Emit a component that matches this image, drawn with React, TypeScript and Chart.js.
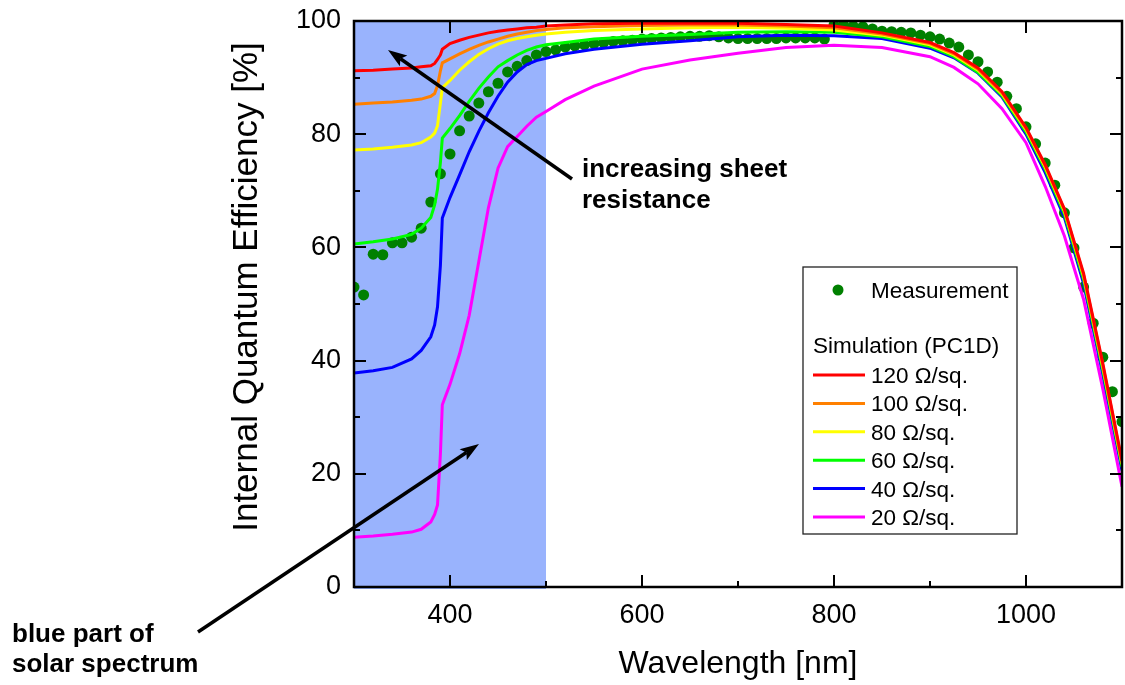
import { useEffect, useRef } from "react";
import { Chart, registerables } from "chart.js";
Chart.register(...registerables);

const FONT = '"Liberation Sans", Arial, Helvetica, sans-serif';

// Simulation (PC1D) wavelength grid [nm]
const SIM_WL = [300, 320, 340, 360, 370, 380, 384, 387, 390, 392, 400, 410, 420, 430, 440, 450, 460, 470, 480, 490, 500, 520, 550, 600, 650, 700, 750, 800, 850, 900, 925, 950, 975, 1000, 1020, 1040, 1060, 1080, 1100];

const SIM_120 = [91.2, 91.3, 91.5, 91.7, 91.9, 92.1, 92.5, 93.2, 94.0, 95.0, 96.0, 96.6, 97.1, 97.5, 97.9, 98.2, 98.4, 98.6, 98.8, 98.9, 99.1, 99.3, 99.5, 99.6, 99.6, 99.6, 99.4, 99.1, 97.9, 96.2, 94.4, 91.7, 87.5, 81.2, 74.6, 66.8, 55.4, 39.5, 22.3];
const SIM_100 = [85.3, 85.5, 85.7, 86.0, 86.2, 86.7, 87.2, 88.6, 91.2, 92.6, 93.3, 94.2, 95.0, 95.7, 96.3, 96.8, 97.3, 97.7, 98.0, 98.3, 98.5, 98.8, 99.0, 99.2, 99.3, 99.3, 99.1, 98.8, 97.7, 96.0, 94.2, 91.5, 87.3, 81.0, 74.4, 66.6, 55.1, 39.2, 22.0];
const SIM_80 = [77.2, 77.4, 77.7, 78.1, 78.5, 79.5, 80.2, 81.5, 85.5, 88.2, 89.5, 91.3, 92.8, 94.1, 95.1, 95.9, 96.5, 96.9, 97.2, 97.5, 97.7, 98.0, 98.3, 98.6, 98.8, 98.9, 98.7, 98.4, 97.5, 95.8, 94.0, 91.3, 87.1, 80.8, 74.2, 66.4, 54.9, 38.9, 21.7];
const SIM_60 = [60.6, 61.0, 61.5, 62.3, 63.4, 65.3, 67.5, 70.3, 75.0, 79.3, 81.0, 83.3, 85.8, 88.1, 90.1, 91.9, 93.0, 94.0, 94.8, 95.4, 95.8, 96.2, 96.8, 97.3, 97.6, 98.0, 98.1, 98.0, 97.2, 95.5, 93.7, 90.9, 86.8, 80.4, 73.8, 65.9, 54.3, 38.3, 21.2];
const SIM_40 = [37.8, 38.2, 38.8, 40.3, 41.8, 44.2, 46.3, 49.5, 56.8, 65.2, 68.8, 72.8, 76.9, 80.5, 83.8, 86.7, 89.2, 91.0, 92.3, 93.0, 93.4, 94.2, 95.0, 95.9, 96.5, 97.2, 97.5, 97.4, 96.9, 95.2, 93.5, 90.8, 86.6, 80.0, 73.2, 65.3, 53.6, 37.6, 20.6];
const SIM_20 = [8.8, 9.0, 9.3, 9.7, 10.2, 11.5, 12.8, 14.5, 23.5, 32.2, 35.8, 41.2, 48.0, 57.5, 67.0, 74.0, 77.8, 79.6, 81.4, 83.0, 84.0, 86.1, 88.5, 91.5, 93.1, 94.3, 95.3, 95.7, 95.3, 93.7, 91.8, 88.9, 84.5, 78.5, 70.8, 62.0, 50.8, 35.0, 17.7];

const SIM_SERIES = [SIM_120, SIM_100, SIM_80, SIM_60, SIM_40, SIM_20];
const SIM_LABELS = ["120 Ω/sq.", "100 Ω/sq.", "80 Ω/sq.", "60 Ω/sq.", "40 Ω/sq.", "20 Ω/sq."];
const SIM_COLORS = ["#ff0000", "#ff8000", "#ffff00", "#00ff00", "#0000ff", "#ff00ff"];

// Measurement
const MEAS_WL = [300, 310, 320, 330, 340, 350, 360, 370, 380, 390, 400, 410, 420, 430, 440, 450, 460, 470, 480, 490, 500, 510, 520, 530, 540, 550, 560, 570, 580, 590, 600, 610, 620, 630, 640, 650, 660, 670, 680, 690, 700, 710, 720, 730, 740, 750, 760, 770, 780, 790, 800, 810, 820, 830, 840, 850, 860, 870, 880, 890, 900, 910, 920, 930, 940, 950, 960, 970, 980, 990, 1000, 1010, 1020, 1030, 1040, 1050, 1060, 1070, 1080, 1090, 1100];
const MEAS_IQE = [53.0, 51.6, 58.8, 58.7, 60.8, 60.8, 61.8, 63.4, 68.0, 73.0, 76.5, 80.6, 83.2, 85.5, 87.5, 89.0, 91.0, 92.0, 93.0, 94.0, 94.6, 94.9, 95.4, 95.6, 95.8, 96.0, 96.2, 96.4, 96.5, 96.6, 96.8, 96.9, 97.0, 97.1, 97.2, 97.3, 97.3, 97.4, 97.2, 97.0, 96.9, 96.9, 96.9, 96.9, 96.9, 97.0, 97.0, 97.0, 97.0, 96.8, 99.3, 99.3, 99.1, 99.0, 98.6, 98.2, 98.1, 98.0, 97.9, 97.5, 97.2, 96.8, 96.1, 95.4, 94.0, 92.8, 91.0, 89.2, 86.7, 84.5, 81.3, 78.3, 74.9, 71.0, 66.1, 59.9, 53.0, 46.6, 40.6, 34.5, 29.2];
const MEAS_LABEL = "Measurement";
const MEAS_COLOR = "#008000";
const SIM_HEADER = "Simulation (PC1D)";

const X_MIN = 300, X_MAX = 1100;
const Y_MIN = 0, Y_MAX = 100;
const X_MAJOR = [400, 600, 800, 1000];
const X_MINOR = [500, 700, 900];
const Y_MAJOR = [0, 20, 40, 60, 80, 100];
const Y_MINOR = [10, 30, 50, 70, 90];
const SHADE_RANGE = [300, 500];
const SHADE_COLOR = "#99b3fd";

const X_TITLE = "Wavelength [nm]";
const Y_TITLE = "Internal Quantum Efficiency [%]";
const NOTE_1 = ["increasing sheet", "resistance"];
const NOTE_2 = ["blue part of", "solar spectrum"];

function arrow(ctx: CanvasRenderingContext2D, x0: number, y0: number, x1: number, y1: number) {
  const ang = Math.atan2(y1 - y0, x1 - x0);
  const L = 19, W = 6.5;
  const bx = x1 - Math.cos(ang) * L * 0.8, by = y1 - Math.sin(ang) * L * 0.8;
  ctx.save();
  ctx.strokeStyle = "#000";
  ctx.fillStyle = "#000";
  ctx.lineWidth = 3.5;
  ctx.beginPath();
  ctx.moveTo(x0, y0);
  ctx.lineTo(bx, by);
  ctx.stroke();
  const px = -Math.sin(ang), py = Math.cos(ang);
  const hx = x1 - Math.cos(ang) * L, hy = y1 - Math.sin(ang) * L;
  ctx.beginPath();
  ctx.moveTo(x1, y1);
  ctx.lineTo(hx + px * W, hy + py * W);
  ctx.lineTo(bx, by);
  ctx.lineTo(hx - px * W, hy - py * W);
  ctx.closePath();
  ctx.fill();
  ctx.restore();
}

const decor = {
  id: "decor",
  beforeDatasetsDraw(chart: any) {
    const { ctx, chartArea: a, scales } = chart;
    const x = scales.x;
    const x0 = x.getPixelForValue(SHADE_RANGE[0]);
    const x1 = x.getPixelForValue(SHADE_RANGE[1]);
    ctx.save();
    ctx.fillStyle = SHADE_COLOR;
    ctx.fillRect(x0, a.top, x1 - x0, a.bottom - a.top + 2);
    ctx.restore();
  },
  afterDatasetsDraw(chart: any) {
    const { ctx, chartArea: a, scales } = chart;
    const x = scales.x, y = scales.y;
    ctx.save();
    ctx.strokeStyle = "#000";
    ctx.lineWidth = 2;
    ctx.beginPath();
    const tick = (v: number, len: number, horiz: boolean) => {
      if (horiz) {
        const px = Math.round(x.getPixelForValue(v));
        ctx.moveTo(px, a.bottom); ctx.lineTo(px, a.bottom - len);
        ctx.moveTo(px, a.top); ctx.lineTo(px, a.top + len);
      } else {
        const py = Math.round(y.getPixelForValue(v));
        ctx.moveTo(a.left, py); ctx.lineTo(a.left + len, py);
        ctx.moveTo(a.right, py); ctx.lineTo(a.right - len, py);
      }
    };
    X_MAJOR.forEach((v) => tick(v, 12, true));
    X_MINOR.forEach((v) => tick(v, 6, true));
    Y_MAJOR.forEach((v) => tick(v, 12, false));
    Y_MINOR.forEach((v) => tick(v, 6, false));
    ctx.stroke();
    ctx.lineWidth = 2.5;
    ctx.strokeRect(a.left, a.top, a.right - a.left, a.bottom - a.top);
    ctx.restore();
  },
  afterDraw(chart: any) {
    const { ctx, chartArea: a } = chart;
    ctx.save();
    ctx.fillStyle = "#000";
    // axis titles
    ctx.font = `32px ${FONT}`;
    ctx.textAlign = "center";
    ctx.textBaseline = "alphabetic";
    ctx.fillText(X_TITLE, (a.left + a.right) / 2, 673);
    ctx.save();
    ctx.translate(257, 287);
    ctx.rotate(-Math.PI / 2);
    ctx.font = `35px ${FONT}`;
    ctx.fillText(Y_TITLE, 0, 0);
    ctx.restore();

    // annotations
    ctx.textAlign = "left";
    ctx.font = `bold 26px ${FONT}`;
    ctx.fillText(NOTE_1[0], 582, 177);
    ctx.fillText(NOTE_1[1], 582, 208);
    ctx.fillText(NOTE_2[0], 12, 642);
    ctx.fillText(NOTE_2[1], 12, 672);
    arrow(ctx, 572, 179, 388, 50);
    arrow(ctx, 198, 632, 479, 444);

    // legend
    const bx = 803, by = 267, bw = 214, bh = 267;
    ctx.fillStyle = "#fff";
    ctx.fillRect(bx, by, bw, bh);
    ctx.strokeStyle = "#222";
    ctx.lineWidth = 1.3;
    ctx.strokeRect(bx, by, bw, bh);
    ctx.fillStyle = MEAS_COLOR;
    ctx.beginPath();
    ctx.arc(838, 290, 5.5, 0, Math.PI * 2);
    ctx.fill();
    ctx.fillStyle = "#000";
    ctx.font = `22.5px ${FONT}`;
    ctx.fillText(MEAS_LABEL, 871, 298);
    ctx.fillText(SIM_HEADER, 813, 353);
    SIM_LABELS.forEach((lab, i) => {
      const ly = 375 + i * 28.4;
      ctx.strokeStyle = SIM_COLORS[i];
      ctx.lineWidth = 3;
      ctx.beginPath();
      ctx.moveTo(813, ly);
      ctx.lineTo(865, ly);
      ctx.stroke();
      ctx.fillStyle = "#000";
      ctx.fillText(lab, 871, ly + 8);
    });
    ctx.restore();
  },
};

export default function App() {
  const ref = useRef<HTMLCanvasElement>(null);
  useEffect(() => {
    if (!ref.current) return;
    const datasets: any[] = SIM_SERIES.map((vals, i) => ({
      label: SIM_LABELS[i],
      data: SIM_WL.map((w, j) => ({ x: w, y: vals[j] })),
      showLine: true,
      borderColor: SIM_COLORS[i],
      backgroundColor: SIM_COLORS[i],
      borderWidth: 3,
      pointRadius: 0,
      pointHoverRadius: 0,
      tension: 0,
      fill: false,
      clip: 0,
      order: 0,
    }));
    datasets.push({
      label: MEAS_LABEL,
      data: MEAS_WL.map((w, j) => ({ x: w, y: MEAS_IQE[j] })),
      showLine: false,
      pointRadius: 5.5,
      pointBorderWidth: 0,
      pointBackgroundColor: MEAS_COLOR,
      borderColor: MEAS_COLOR,
      backgroundColor: MEAS_COLOR,
      clip: 0,
      order: 10,
    });
    const chart = new Chart(ref.current, {
      type: "scatter",
      data: { datasets },
      plugins: [decor],
      options: {
        responsive: false,
        animation: false,
        devicePixelRatio: 1,
        layout: { autoPadding: false, padding: { top: 21, right: 3, left: 0, bottom: 0 } },
        plugins: { legend: { display: false }, tooltip: { enabled: false } },
        scales: {
          x: {
            type: "linear",
            min: X_MIN,
            max: X_MAX,
            grid: { display: false, drawTicks: false },
            border: { display: false },
            afterBuildTicks: (s: any) => { s.ticks = X_MAJOR.map((v) => ({ value: v })); },
            afterFit: (s: any) => { s.height = 98; s.paddingLeft = 0; s.paddingRight = 0; },
            ticks: { color: "#000", font: { family: FONT, size: 27 }, padding: 12, maxRotation: 0, autoSkip: false, callback: (v: any) => String(v) },
          },
          y: {
            type: "linear",
            min: Y_MIN,
            max: Y_MAX,
            grid: { display: false, drawTicks: false },
            border: { display: false },
            afterBuildTicks: (s: any) => { s.ticks = Y_MAJOR.map((v) => ({ value: v })); },
            afterFit: (s: any) => { s.width = 354; s.paddingTop = 0; s.paddingBottom = 0; },
            ticks: { color: "#000", font: { family: FONT, size: 27 }, padding: 13, autoSkip: false, callback: (v: any) => String(v) },
          },
        },
      },
    });
    return () => chart.destroy();
  }, []);
  return (
    <div style={{ position: "absolute", left: 0, top: 0, width: 1125, height: 685, background: "#fff" }}>
      <canvas ref={ref} width={1125} height={685} />
    </div>
  );
}
